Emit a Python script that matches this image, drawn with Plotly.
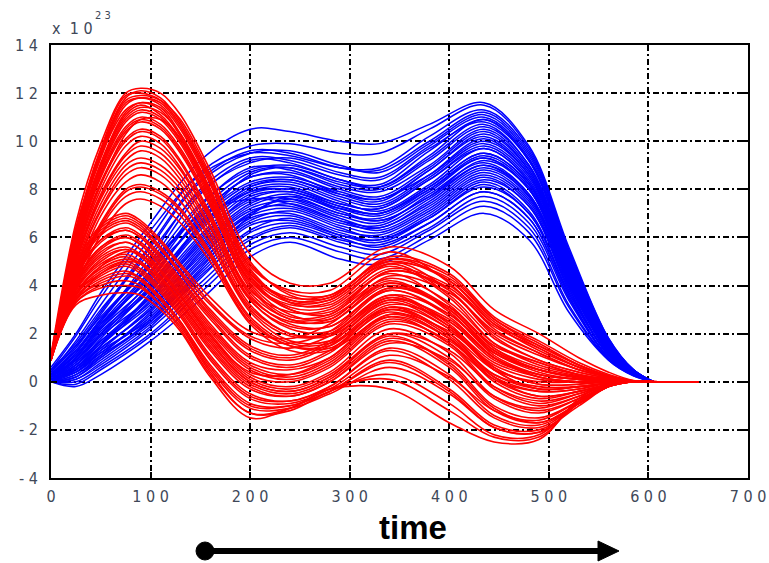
import plotly.graph_objects as go

# ---- data (values in units of 1e23) ----
XB = [0, 25, 50, 100, 150, 200, 240, 290, 330, 380, 435, 480, 520, 560, 585, 605]
BLUE_CURVES = [
    [0.6, 2.0, 3.7, 6.6, 9.2, 10.5, 10.4, 10.0, 9.9, 10.7, 11.6, 9.8, 5.6, 1.8, 0.5, 0],
    [0.4, 1.7, 3.2, 6.0, 8.7, 9.8, 9.9, 9.5, 9.5, 10.5, 11.5, 9.7, 5.5, 1.8, 0.5, 0],
    [0.5, 1.9, 3.5, 6.3, 8.6, 9.5, 9.4, 8.9, 8.9, 10.2, 11.3, 9.6, 5.4, 1.7, 0.5, 0],
    [0.3, 1.4, 2.8, 5.6, 8.3, 9.5, 9.6, 9.0, 8.7, 9.9, 11.1, 9.4, 5.3, 1.7, 0.5, 0],
    [0.5, 1.6, 3.0, 5.4, 7.9, 9.1, 9.3, 8.7, 8.5, 9.8, 11.0, 9.3, 5.2, 1.6, 0.5, 0],
    [0.2, 1.2, 2.5, 5.0, 7.8, 9.2, 9.1, 8.4, 8.2, 9.6, 10.9, 9.2, 5.1, 1.6, 0.45, 0],
    [0.4, 1.5, 2.7, 4.9, 7.4, 8.8, 9.0, 8.4, 8.1, 9.3, 10.7, 9.0, 5.0, 1.6, 0.45, 0],
    [0.2, 1.1, 2.3, 4.6, 7.3, 8.9, 8.8, 8.1, 7.9, 9.0, 10.5, 8.9, 4.9, 1.5, 0.45, 0],
    [0.3, 1.3, 2.6, 4.8, 7.0, 8.5, 8.7, 8.0, 7.7, 8.9, 10.4, 8.8, 4.9, 1.5, 0.45, 0],
    [0.1, 0.9, 2.0, 4.2, 6.9, 8.5, 8.6, 7.8, 7.5, 8.8, 10.2, 8.7, 4.8, 1.5, 0.4, 0],
    [0.3, 1.1, 2.3, 4.4, 6.7, 8.2, 8.4, 7.8, 7.6, 8.6, 10.0, 8.6, 4.7, 1.4, 0.4, 0],
    [0.2, 1.0, 2.2, 4.1, 6.5, 8.1, 8.3, 7.6, 7.3, 8.5, 9.9, 8.5, 4.6, 1.4, 0.4, 0],
    [0.0, 0.7, 1.8, 3.9, 6.4, 8.0, 8.2, 7.5, 7.1, 8.2, 9.7, 8.3, 4.5, 1.4, 0.4, 0],
    [0.2, 0.9, 2.0, 3.8, 6.1, 7.8, 8.0, 7.3, 7.0, 8.1, 9.5, 8.2, 4.5, 1.3, 0.4, 0],
    [0.1, 0.8, 1.7, 3.6, 6.0, 7.6, 7.9, 7.2, 6.9, 8.0, 9.4, 8.1, 4.4, 1.3, 0.4, 0],
    [0.3, 0.9, 1.9, 3.5, 5.7, 7.4, 7.8, 7.1, 6.7, 7.7, 9.2, 8.0, 4.3, 1.3, 0.4, 0],
    [0.0, 0.6, 1.5, 3.4, 5.8, 7.5, 7.6, 6.9, 6.6, 7.8, 9.1, 7.8, 4.2, 1.2, 0.35, 0],
    [0.1, 0.7, 1.6, 3.2, 5.5, 7.2, 7.5, 6.8, 6.4, 7.5, 8.9, 7.7, 4.1, 1.2, 0.35, 0],
    [0.2, 0.6, 1.4, 3.0, 5.3, 7.0, 7.4, 6.7, 6.3, 7.3, 8.7, 7.5, 4.0, 1.2, 0.35, 0],
    [0.0, 0.4, 1.3, 3.1, 5.2, 6.9, 7.2, 6.5, 6.2, 7.2, 8.6, 7.4, 3.9, 1.1, 0.35, 0],
    [0.1, 0.5, 1.2, 2.8, 5.0, 6.7, 7.1, 6.4, 6.0, 7.0, 8.4, 7.3, 3.8, 1.1, 0.3, 0],
    [0.0, 0.3, 1.0, 2.6, 4.8, 6.6, 6.9, 6.2, 5.9, 6.9, 8.3, 7.1, 3.7, 1.1, 0.3, 0],
    [0.1, 0.4, 1.1, 2.5, 4.5, 6.3, 6.8, 6.1, 5.8, 6.8, 8.1, 7.0, 3.6, 1.0, 0.3, 0],
    [0.0, 0.2, 0.9, 2.4, 4.3, 6.2, 6.6, 6.0, 5.6, 6.6, 7.9, 6.8, 3.5, 1.0, 0.3, 0],
    [0.0, 0.1, 0.7, 2.2, 4.1, 5.9, 6.4, 5.8, 5.5, 6.4, 7.7, 6.6, 3.4, 1.0, 0.3, 0],
    [0.0, 0.0, 0.6, 2.0, 3.9, 5.7, 6.2, 5.6, 5.3, 6.3, 7.5, 6.4, 3.2, 0.95, 0.3, 0],
    [0.0, -0.1, 0.5, 1.9, 3.7, 5.5, 6.0, 5.4, 5.1, 6.1, 7.3, 6.2, 3.1, 0.9, 0.25, 0],
    [0.0, -0.2, 0.3, 1.7, 3.4, 5.2, 5.8, 5.1, 4.9, 5.9, 7.0, 5.9, 2.9, 0.9, 0.25, 0],
    [0.3, 1.2, 2.6, 4.9, 6.9, 7.6, 7.4, 6.7, 6.5, 7.6, 9.0, 7.8, 4.2, 1.2, 0.35, 0],
    [0.1, 0.5, 1.5, 3.7, 6.6, 8.6, 8.9, 8.3, 8.1, 9.4, 10.9, 9.2, 5.1, 1.6, 0.45, 0],
    [0.4, 1.5, 2.9, 5.7, 8.4, 9.6, 9.5, 8.9, 8.8, 10.0, 11.2, 9.5, 5.4, 1.7, 0.5, 0],
    [0.3, 1.3, 2.5, 5.2, 8.0, 9.3, 9.2, 8.6, 8.4, 9.7, 10.8, 9.2, 5.2, 1.6, 0.45, 0],
    [0.2, 1.0, 2.2, 4.5, 7.1, 8.7, 8.9, 8.2, 8.0, 9.2, 10.6, 9.0, 5.0, 1.6, 0.45, 0],
    [0.3, 1.1, 2.4, 4.3, 6.8, 8.3, 8.5, 7.9, 7.6, 8.8, 10.3, 8.8, 4.8, 1.5, 0.45, 0],
    [0.1, 0.8, 1.9, 4.0, 6.5, 8.1, 8.4, 7.7, 7.4, 8.6, 10.1, 8.6, 4.7, 1.4, 0.4, 0],
    [0.2, 0.9, 2.1, 3.9, 6.3, 7.9, 8.1, 7.4, 7.2, 8.4, 9.8, 8.4, 4.6, 1.4, 0.4, 0],
    [0.0, 0.6, 1.6, 3.5, 5.9, 7.7, 7.9, 7.3, 7.0, 8.1, 9.5, 8.2, 4.4, 1.3, 0.4, 0],
    [0.1, 0.7, 1.7, 3.3, 5.6, 7.3, 7.7, 7.0, 6.8, 7.9, 9.3, 8.0, 4.3, 1.3, 0.4, 0],
    [0.0, 0.5, 1.4, 3.0, 5.4, 7.1, 7.3, 6.6, 6.4, 7.4, 8.8, 7.6, 4.1, 1.2, 0.35, 0],
    [0.1, 0.4, 1.2, 2.7, 4.9, 6.8, 7.0, 6.3, 6.1, 7.1, 8.5, 7.3, 3.9, 1.1, 0.35, 0],
    [0.0, 0.2, 1.0, 2.5, 4.6, 6.5, 6.7, 6.1, 5.9, 6.8, 8.2, 7.0, 3.7, 1.1, 0.3, 0],
    [0.0, 0.1, 0.8, 2.3, 4.4, 6.0, 6.5, 5.9, 5.7, 6.6, 7.9, 6.8, 3.5, 1.0, 0.3, 0],
    [0.2, 1.0, 2.4, 4.6, 6.6, 7.9, 8.0, 7.4, 7.2, 8.4, 9.7, 8.3, 4.5, 1.4, 0.4, 0],
    [0.0, 0.3, 1.1, 2.9, 5.1, 7.0, 7.6, 7.0, 6.7, 7.7, 9.0, 7.7, 4.1, 1.2, 0.35, 0],
    [0.1, 0.5, 1.3, 2.6, 4.7, 6.9, 7.7, 7.2, 7.0, 8.0, 9.3, 8.0, 4.3, 1.3, 0.4, 0],
]

XR = [0, 25, 50, 75, 90, 110, 130, 160, 200, 240, 280, 340, 400, 445, 490, 530, 560, 585, 610, 650]
RED_UPPER = [
    [1.1, 6.6, 9.9, 12.0, 12.2, 12.0, 11.1, 8.8, 5.3, 4.1, 4.1, 5.6, 4.8, 3.0, 2.0, 1.0, 0.4, 0.05, 0, 0],
    [1.0, 6.2, 9.6, 11.8, 12.1, 11.8, 10.8, 8.5, 5.0, 3.6, 3.5, 5.2, 4.5, 2.7, 1.7, 0.8, 0.3, 0.04, 0, 0],
    [0.9, 6.4, 9.5, 11.7, 11.9, 11.7, 10.9, 8.6, 4.8, 3.8, 3.8, 5.4, 4.1, 2.2, 1.2, 0.5, 0.2, 0.03, 0, 0],
    [1.0, 6.0, 9.3, 11.5, 11.8, 11.5, 10.5, 8.2, 4.7, 3.3, 3.2, 4.9, 4.3, 2.6, 1.6, 0.7, 0.25, 0.03, 0, 0],
    [1.1, 6.1, 9.4, 11.3, 11.6, 11.4, 10.3, 8.0, 4.5, 3.5, 3.6, 5.0, 3.8, 1.9, 0.9, 0.4, 0.15, 0.02, 0, 0],
    [0.9, 5.8, 9.0, 11.1, 11.5, 11.1, 10.1, 7.8, 4.4, 3.0, 2.9, 4.6, 3.9, 2.3, 1.4, 0.6, 0.2, 0.02, 0, 0],
    [1.0, 5.9, 8.9, 10.9, 11.3, 11.0, 10.0, 7.7, 4.2, 3.2, 3.3, 4.8, 3.5, 1.6, 0.7, 0.3, 0.1, 0.02, 0, 0],
    [1.0, 5.6, 8.7, 10.6, 11.0, 10.7, 9.7, 7.5, 4.1, 2.8, 2.6, 4.4, 3.7, 2.1, 1.2, 0.5, 0.2, 0.02, 0, 0],
    [0.9, 5.5, 8.5, 10.4, 10.8, 10.5, 9.5, 7.3, 3.9, 2.6, 2.7, 4.1, 3.0, 1.3, 0.5, 0.2, 0.05, 0.01, 0, 0],
    [1.0, 5.4, 8.3, 10.1, 10.5, 10.2, 9.2, 7.0, 3.8, 2.9, 3.0, 4.5, 3.2, 1.4, 0.6, 0.25, 0.1, 0.01, 0, 0],
    [0.9, 5.2, 8.0, 9.8, 10.2, 9.9, 8.9, 6.8, 3.6, 2.4, 2.3, 3.9, 3.1, 1.5, 0.8, 0.3, 0.1, 0.01, 0, 0],
    [1.0, 5.1, 7.8, 9.5, 10.0, 9.7, 8.8, 6.7, 3.5, 2.5, 2.6, 4.2, 2.9, 1.1, 0.3, 0.1, 0.05, 0.01, 0, 0],
    [0.9, 4.9, 7.6, 9.2, 9.6, 9.3, 8.4, 6.4, 3.4, 2.2, 2.1, 3.8, 2.7, 1.0, 0.2, 0.0, 0.0, 0.0, 0, 0],
    [1.0, 4.8, 7.4, 9.0, 9.3, 9.0, 8.2, 6.2, 3.2, 2.0, 2.0, 3.5, 2.5, 0.9, 0.3, 0.1, 0.05, 0.0, 0, 0],
    [0.9, 4.6, 7.1, 8.6, 8.9, 8.6, 7.8, 5.9, 3.0, 1.9, 2.0, 3.6, 2.4, 0.6, -0.1, -0.1, 0.0, 0.0, 0, 0],
    [1.0, 4.4, 6.9, 8.3, 8.6, 8.3, 7.5, 5.7, 2.9, 1.7, 1.7, 3.3, 2.2, 0.7, 0.1, 0.0, 0.0, 0.0, 0, 0],
    [0.9, 4.3, 6.6, 8.0, 8.2, 7.9, 7.2, 5.4, 2.7, 1.6, 1.6, 3.0, 1.9, 0.3, -0.3, -0.2, -0.05, 0.0, 0, 0],
    [1.0, 4.1, 6.4, 7.7, 7.9, 7.6, 6.9, 5.2, 2.5, 1.5, 1.5, 3.1, 2.0, 0.5, 0.0, 0.0, 0.0, 0.0, 0, 0],
    [0.9, 3.9, 6.1, 7.4, 7.6, 7.3, 6.6, 5.0, 2.4, 1.3, 1.3, 2.7, 1.6, 0.1, -0.4, -0.3, -0.05, 0.0, 0, 0],
    [1.0, 5.3, 8.2, 10.3, 10.9, 10.9, 10.1, 7.9, 4.3, 3.1, 3.1, 4.7, 4.0, 2.4, 1.5, 0.7, 0.25, 0.03, 0, 0],
    [1.0, 6.3, 9.7, 11.9, 12.0, 11.7, 10.7, 8.4, 4.9, 3.7, 3.6, 5.1, 4.4, 2.6, 1.5, 0.7, 0.25, 0.03, 0, 0],
    [1.0, 6.1, 9.4, 11.6, 11.8, 11.6, 10.6, 8.3, 4.6, 3.4, 3.4, 5.0, 4.2, 2.5, 1.4, 0.6, 0.2, 0.03, 0, 0],
    [0.9, 5.9, 9.1, 11.2, 11.6, 11.3, 10.2, 7.9, 4.4, 3.3, 3.4, 4.9, 3.6, 1.8, 0.9, 0.4, 0.15, 0.02, 0, 0],
    [1.0, 5.7, 8.8, 10.8, 11.2, 10.9, 9.9, 7.6, 4.2, 3.0, 2.8, 4.6, 3.8, 2.0, 1.1, 0.5, 0.2, 0.02, 0, 0],
    [0.9, 5.5, 8.6, 10.5, 10.9, 10.6, 9.6, 7.4, 4.0, 2.7, 2.8, 4.3, 3.3, 1.6, 0.8, 0.3, 0.1, 0.01, 0, 0],
    [1.0, 5.3, 8.2, 10.0, 10.4, 10.1, 9.1, 6.9, 3.7, 2.6, 2.5, 4.0, 3.0, 1.2, 0.5, 0.2, 0.05, 0.01, 0, 0],
    [0.9, 5.0, 7.7, 9.4, 9.8, 9.5, 8.6, 6.5, 3.4, 2.3, 2.3, 3.8, 2.8, 1.2, 0.5, 0.2, 0.05, 0.0, 0, 0],
    [1.0, 4.7, 7.2, 8.8, 9.1, 8.8, 8.0, 6.0, 3.1, 2.0, 1.9, 3.4, 2.3, 0.8, 0.2, 0.0, 0.0, 0.0, 0, 0],
    [0.9, 4.2, 6.5, 7.9, 8.1, 7.8, 7.1, 5.3, 2.6, 1.5, 1.4, 2.9, 1.8, 0.3, -0.2, -0.2, -0.05, 0.0, 0, 0],
    [1.0, 5.8, 9.0, 11.0, 11.4, 11.2, 10.3, 8.0, 4.5, 3.4, 3.5, 5.1, 4.2, 2.4, 1.3, 0.6, 0.2, 0.02, 0, 0],
]
RED_LOWER = [
    [1.0, 4.8, 6.5, 7.0, 6.7, 5.9, 4.9, 3.5, 2.1, 1.8, 2.4, 4.1, 3.1, 1.4, 0.5, 0.2, 0.05, 0.0, 0, 0],
    [1.0, 4.6, 6.3, 6.8, 6.5, 5.6, 4.6, 3.2, 1.8, 1.4, 1.9, 3.6, 2.8, 1.2, 0.4, 0.1, 0.05, 0.0, 0, 0],
    [0.9, 4.5, 6.1, 6.6, 6.3, 5.5, 4.5, 3.0, 1.5, 1.1, 1.7, 3.5, 2.3, 0.5, -0.3, -0.2, -0.05, 0.0, 0, 0],
    [1.0, 4.4, 5.9, 6.4, 6.1, 5.3, 4.3, 2.8, 1.3, 0.9, 1.5, 3.2, 2.5, 1.0, 0.3, 0.1, 0.0, 0.0, 0, 0],
    [1.0, 4.3, 5.8, 6.3, 6.0, 5.1, 4.1, 2.6, 1.0, 0.6, 1.2, 3.0, 2.0, 0.2, -0.6, -0.4, -0.1, 0.0, 0, 0],
    [0.9, 4.2, 5.6, 6.1, 5.8, 5.0, 4.0, 2.4, 0.8, 0.5, 1.0, 2.8, 2.1, 0.6, -0.1, -0.1, 0.0, 0.0, 0, 0],
    [1.0, 4.1, 5.5, 6.0, 5.7, 4.8, 3.8, 2.2, 0.6, 0.2, 0.8, 2.6, 1.6, -0.2, -0.9, -0.5, -0.1, 0.0, 0, 0],
    [1.0, 4.0, 5.3, 5.8, 5.5, 4.7, 3.7, 2.1, 0.5, 0.1, 0.7, 2.5, 1.7, 0.2, -0.4, -0.3, -0.05, 0.0, 0, 0],
    [0.9, 3.9, 5.2, 5.6, 5.3, 4.5, 3.5, 1.9, 0.2, -0.2, 0.4, 2.2, 1.2, -0.6, -1.2, -0.7, -0.15, 0.0, 0, 0],
    [1.0, 3.9, 5.0, 5.5, 5.2, 4.4, 3.4, 1.8, 0.1, -0.3, 0.3, 2.0, 1.3, -0.2, -0.8, -0.5, -0.1, 0.0, 0, 0],
    [1.0, 3.8, 4.9, 5.3, 5.0, 4.2, 3.2, 1.5, -0.1, -0.5, 0.1, 1.8, 0.8, -1.0, -1.5, -0.8, -0.15, 0.0, 0, 0],
    [0.9, 3.7, 4.7, 5.1, 4.9, 4.0, 3.0, 1.3, -0.3, -0.6, 0.0, 1.6, 0.9, -0.6, -1.1, -0.6, -0.1, 0.0, 0, 0],
    [1.0, 3.6, 4.6, 5.0, 4.7, 3.9, 2.9, 1.1, -0.5, -0.8, -0.2, 1.4, 0.3, -1.4, -1.8, -0.9, -0.2, 0.0, 0, 0],
    [1.0, 3.5, 4.4, 4.8, 4.5, 3.7, 2.7, 0.9, -0.7, -0.9, -0.3, 1.1, 0.2, -1.2, -1.6, -0.8, -0.15, 0.0, 0, 0],
    [0.9, 3.5, 4.3, 4.6, 4.3, 3.5, 2.5, 0.7, -0.9, -1.0, -0.4, 0.9, -0.3, -1.8, -2.0, -1.0, -0.2, 0.0, 0, 0],
    [1.0, 3.4, 4.1, 4.4, 4.2, 3.4, 2.4, 0.5, -1.1, -1.1, -0.5, 0.6, -0.5, -1.9, -2.1, -0.9, -0.2, 0.0, 0, 0],
    [1.0, 3.3, 4.0, 4.2, 4.0, 3.2, 2.2, 0.3, -1.3, -1.2, -0.4, 0.3, -0.9, -2.2, -2.2, -0.8, -0.15, 0.0, 0, 0],
    [0.9, 3.2, 3.6, 3.7, 3.6, 3.0, 2.1, 0.2, -1.5, -1.1, -0.3, -0.3, -1.7, -2.5, -2.4, -0.7, -0.1, 0.0, 0, 0],
    [1.0, 3.6, 4.8, 5.4, 5.3, 4.6, 3.6, 1.9, 0.4, 0.3, 1.0, 2.8, 1.8, 0.0, -0.7, -0.4, -0.1, 0.0, 0, 0],
    [1.0, 3.4, 4.5, 5.0, 4.9, 4.3, 3.3, 1.6, 0.0, -0.4, 0.2, 1.9, 0.7, -1.1, -1.7, -0.9, -0.2, 0.0, 0, 0],
    [1.0, 4.7, 6.4, 6.9, 6.6, 5.8, 4.8, 3.3, 1.9, 1.6, 2.1, 3.9, 3.0, 1.3, 0.5, 0.15, 0.05, 0.0, 0, 0],
    [0.9, 4.5, 6.2, 6.7, 6.4, 5.6, 4.5, 2.9, 1.4, 1.0, 1.6, 3.4, 2.6, 1.0, 0.2, 0.0, 0.0, 0.0, 0, 0],
    [1.0, 4.3, 5.9, 6.3, 6.0, 5.2, 4.2, 2.7, 1.1, 0.7, 1.3, 3.1, 2.2, 0.5, -0.3, -0.2, -0.05, 0.0, 0, 0],
    [1.0, 4.1, 5.6, 6.0, 5.7, 4.9, 3.9, 2.3, 0.7, 0.3, 0.9, 2.7, 1.8, 0.1, -0.6, -0.4, -0.1, 0.0, 0, 0],
    [0.9, 4.0, 5.4, 5.8, 5.5, 4.6, 3.6, 2.0, 0.3, 0.0, 0.6, 2.4, 1.5, -0.3, -1.0, -0.6, -0.1, 0.0, 0, 0],
    [1.0, 3.8, 5.1, 5.5, 5.2, 4.3, 3.3, 1.7, 0.0, -0.4, 0.2, 2.0, 1.0, -0.7, -1.3, -0.7, -0.15, 0.0, 0, 0],
    [1.0, 3.7, 4.8, 5.2, 4.9, 4.1, 3.1, 1.4, -0.2, -0.6, 0.0, 1.7, 0.6, -1.2, -1.7, -0.9, -0.2, 0.0, 0, 0],
    [0.9, 3.6, 4.5, 4.9, 4.6, 3.8, 2.8, 1.0, -0.6, -0.8, -0.2, 1.3, 0.1, -1.5, -1.9, -0.9, -0.2, 0.0, 0, 0],
    [1.0, 3.4, 4.2, 4.5, 4.3, 3.5, 2.5, 0.6, -1.0, -1.0, -0.4, 0.8, -0.4, -1.9, -2.1, -0.9, -0.2, 0.0, 0, 0],
    [1.0, 3.3, 3.9, 4.0, 3.9, 3.2, 2.3, 0.4, -1.3, -1.1, -0.3, 0.1, -1.2, -2.3, -2.3, -0.8, -0.15, 0.0, 0, 0],
]

XTICKS = [0, 100, 200, 300, 400, 500, 600, 700]
XTICK_TEXT = ["0", "1 0 0", "2 0 0", "3 0 0", "4 0 0", "5 0 0", "6 0 0", "7 0 0"]
YTICKS = [-4, -2, 0, 2, 4, 6, 8, 10, 12, 14]
YTICK_TEXT = ["- 4", "- 2", "0", "2", "4", "6", "8", "1 0", "1 2", "1 4"]

BLUE = "#0000ff"
RED = "#ff0000"
LABEL_GREY = "#404858"
NARROW = "Liberation Sans Narrow, DejaVu Sans Condensed, Liberation Sans, Arial"

fig = go.Figure()

for ys in BLUE_CURVES:
    fig.add_trace(go.Scatter(
        x=XB, y=ys, mode="lines",
        line=dict(color=BLUE, width=1.5, shape="spline", smoothing=1.0),
        hoverinfo="skip", showlegend=False,
    ))

for ys in RED_UPPER + RED_LOWER:
    fig.add_trace(go.Scatter(
        x=XR, y=ys, mode="lines",
        line=dict(color=RED, width=1.6, shape="spline", smoothing=1.0),
        hoverinfo="skip", showlegend=False,
    ))

axis_common = dict(
    showgrid=True, gridcolor="black", gridwidth=1.5, griddash="6px,3px,2px,3px",
    showline=True, linecolor="black", linewidth=2, mirror="ticks",
    ticks="inside", ticklen=6, tickwidth=2, tickcolor="black",
    zeroline=False, tickfont=dict(family=NARROW, size=16, color=LABEL_GREY),
)

fig.update_xaxes(range=[0, 700], tickvals=XTICKS, ticktext=XTICK_TEXT,
                 ticklabelstandoff=3, **axis_common)
fig.update_yaxes(range=[-4, 14], tickvals=YTICKS, ticktext=YTICK_TEXT,
                 ticklabelstandoff=8, **axis_common)

# plot-area geometry in pixels (used for the decorations below)
L, R, T, B = 51, 748, 45, 478
W, H = R - L, B - T


def px(xp):
    return (xp - L) / W


def py(yp):
    return (B - yp) / H


fig.add_annotation(text="x  1 0", xref="paper", yref="paper", x=px(50), y=py(28),
                   xanchor="left", yanchor="middle", showarrow=False,
                   font=dict(family=NARROW, size=16, color=LABEL_GREY))
fig.add_annotation(text="2 3", xref="paper", yref="paper", x=px(93), y=py(16),
                   xanchor="left", yanchor="middle", showarrow=False,
                   font=dict(family=NARROW, size=11, color=LABEL_GREY))
fig.add_annotation(text="<b>time</b>", xref="paper", yref="paper", x=px(413), y=py(527),
                   xanchor="center", yanchor="middle", showarrow=False,
                   font=dict(family="Liberation Sans, Arial", size=33, color="black"))

# time arrow below the axis
fig.add_shape(type="line", xref="paper", yref="paper",
              x0=px(205), x1=px(602), y0=py(551), y1=py(551),
              line=dict(color="black", width=6))
fig.add_shape(type="circle", xref="paper", yref="paper",
              x0=px(196), x1=px(214), y0=py(560), y1=py(542),
              fillcolor="black", line=dict(color="black", width=1))
fig.add_shape(type="path", xref="paper", yref="paper",
              path=f"M {px(598)},{py(541)} L {px(619)},{py(551)} L {px(598)},{py(561)} Z",
              fillcolor="black", line=dict(color="black", width=1))

fig.update_layout(
    width=769, height=563, autosize=False,
    margin=dict(l=L, r=769 - R, t=T, b=563 - B, autoexpand=False),
    paper_bgcolor="white", plot_bgcolor="white",
    showlegend=False,
)

fig.write_html("out.html")
